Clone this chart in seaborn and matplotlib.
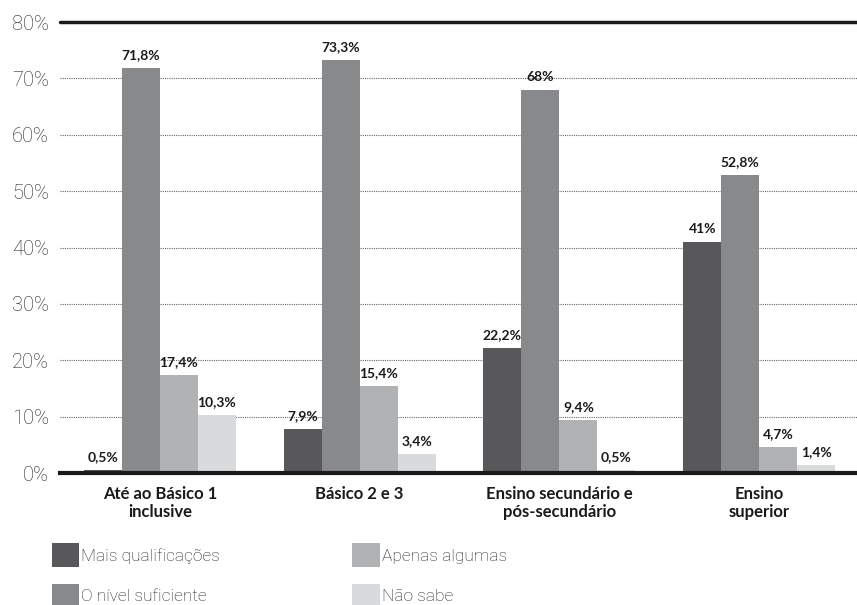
import matplotlib
matplotlib.use("Agg")
import matplotlib.pyplot as plt
import seaborn as sns
import pandas as pd
from matplotlib.patches import Patch

categories = ["Até ao Básico 1\ninclusive", "Básico 2 e 3", "Ensino secundário e\npós-secundário", "Ensino\nsuperior"]
series = ["Mais qualificações", "O nível suficiente", "Apenas algumas", "Não sabe"]
mais = [0.5, 7.9, 22.2, 41.0]
nivel = [71.8, 73.3, 68.0, 52.8]
apenas = [17.4, 15.4, 9.4, 4.7]
nao_sabe = [10.3, 3.4, 0.5, 1.4]
labels = [["0,5%", "7,9%", "22,2%", "41%"],
          ["71,8%", "73,3%", "68%", "52,8%"],
          ["17,4%", "15,4%", "9,4%", "4,7%"],
          ["10,3%", "3,4%", "0,5%", "1,4%"]]
colors = ["#58585a", "#88898b", "#b1b2b4", "#d9dadb"]

rows = []
for s, vals in zip(series, [mais, nivel, apenas, nao_sabe]):
    for c, v in zip(categories, vals):
        rows.append({"cat": c, "serie": s, "valor": v})
df = pd.DataFrame(rows)

sns.set_theme(style="white")
plt.rcParams["font.family"] = ["Lato", "DejaVu Sans"]

fig = plt.figure(figsize=(8.57, 6.05), dpi=100)
ax = fig.add_axes([0.07, 0.218, 0.93, 0.7455])
sns.barplot(data=df, x="cat", y="valor", hue="serie", hue_order=series,
            palette=colors, width=0.76, saturation=1, ax=ax, legend=False,
            edgecolor="none", linewidth=0)

ax.set_ylim(0, 80)
ax.set_xlim(-0.5, 3.49)
ax.set_yticks(range(0, 90, 10))
ax.set_yticklabels([f"{t}%" for t in range(0, 90, 10)], fontsize=14.5,
                   family=["Roboto", "DejaVu Sans"], fontweight="light", color="#222222")
ax.set_xlabel("")
ax.set_ylabel("")
ax.tick_params(axis="y", length=0, pad=8)
ax.tick_params(axis="x", length=0, pad=9)
for lbl in ax.get_xticklabels():
    lbl.set_fontweight("bold")
    lbl.set_fontsize(12)
    lbl.set_color("#1a1a1a")
    lbl.set_linespacing(1.15)

for y in range(10, 80, 10):
    ax.axhline(y, color="#666666", lw=0.8, ls=(0, (1, 1)), zorder=0)
ax.axhline(80, color="#1a1a1a", lw=2.5, zorder=3, clip_on=False)
for sp in ["left", "right", "top"]:
    ax.spines[sp].set_visible(False)
ax.spines["bottom"].set_color("#1a1a1a")
ax.spines["bottom"].set_linewidth(3)
ax.spines["bottom"].set_zorder(4)

for cont, labs in zip(ax.containers, labels):
    ax.bar_label(cont, labels=labs, padding=5, fontsize=10, fontweight="bold", color="#1a1a1a")

handles = [Patch(facecolor=c, edgecolor="none") for c in colors]
leg = fig.legend(handles, series, ncol=2, loc="lower left", bbox_to_anchor=(0.042, -0.03),
                 frameon=False, handlelength=1.6, handleheight=1.7,
                 handletextpad=0.12, columnspacing=7.6, labelspacing=1.0,
                 prop={"family": ["Roboto", "DejaVu Sans"], "weight": "light", "size": 12.5})
for t in leg.get_texts():
    t.set_color("#222222")

fig.savefig("out.png", dpi=100)
